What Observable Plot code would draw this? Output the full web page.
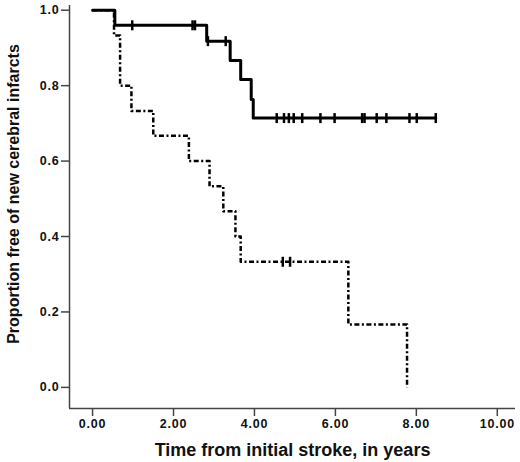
<!DOCTYPE html>
<html>
<head>
<meta charset="utf-8">
<script src="https://cdn.jsdelivr.net/npm/d3@7"></script>
<script src="https://cdn.jsdelivr.net/npm/@observablehq/plot@0.6"></script>
<style>
  body { margin: 0; background: #fff; }
  #chart svg { font-family: "Liberation Sans", Arial, sans-serif; }
  #chart svg g[aria-label$="tick label"] text { letter-spacing: 0.8px; }
</style>
</head>
<body>
<div id="chart"></div>
<script>
// Kaplan-Meier steps, solid group
const solidTimes = [0, 0.55, 2.82, 3.40, 3.66, 3.92, 3.97, 8.48]
const solidSurv  = [1, 0.96, 0.918, 0.867, 0.816, 0.763, 0.714, 0.714]
const solidCensorTimes = [0.98, 2.47, 2.53, 2.85, 3.29, 4.55, 4.73, 4.85, 4.97, 5.18, 5.63, 5.98, 6.66, 6.72, 7.02, 7.26, 7.83, 8.01, 8.48]
const solidCensorSurv  = [0.96, 0.96, 0.96, 0.918, 0.918, 0.714, 0.714, 0.714, 0.714, 0.714, 0.714, 0.714, 0.714, 0.714, 0.714, 0.714, 0.714, 0.714, 0.714]

// dashed group
const dashedTimes = [0, 0.53, 0.68, 0.96, 1.50, 2.38, 2.89, 3.23, 3.53, 3.66, 6.32, 7.77]
const dashedSurv  = [1, 0.933, 0.8, 0.733, 0.667, 0.6, 0.533, 0.467, 0.4, 0.333, 0.167, 0]
const dashedCensorTimes = [4.70, 4.88]
const dashedCensorSurv  = [0.333, 0.333]

const xTicks = [0, 2, 4, 6, 8, 10]
const yTicks = [0, 0.2, 0.4, 0.6, 0.8, 1.0]
const xTitle = "Time from initial stroke, in years"
const yTitle = "Proportion free of new cerebral infarcts"

const xDomain = [-0.57, 10.45]
const yDomain = [-0.056, 1.0125]

const solid = solidTimes.map((t, i) => ({t, s: solidSurv[i]}))
const dashed = dashedTimes.map((t, i) => ({t, s: dashedSurv[i]}))
const censors = solidCensorTimes.map((t, i) => ({t, s: solidCensorSurv[i]}))
  .concat(dashedCensorTimes.map((t, i) => ({t, s: dashedCensorSurv[i]})))

// vertical bar used as censor mark
const vbar = {
  draw(context, size) {
    const r = Math.sqrt(size / Math.PI)
    context.moveTo(0, -r)
    context.lineTo(0, r)
  }
}

const chart = Plot.plot({
  width: 520,
  height: 462,
  marginLeft: 69,
  marginRight: 5,
  marginTop: 5,
  marginBottom: 54,
  x: {domain: xDomain},
  y: {domain: yDomain},
  marks: [
    Plot.ruleX([xDomain[0]], {stroke: "#444", strokeWidth: 1.5}),
    Plot.ruleY([yDomain[0]], {stroke: "#444", strokeWidth: 1.5}),
    Plot.axisX(xTicks, {
      tickSize: 8, tickPadding: 3, stroke: "#444", strokeWidth: 1.5,
      tickFormat: d => d.toFixed(2), fontSize: 12.5, fontWeight: "bold",
      fill: "#111", label: null
    }),
    Plot.axisY(yTicks, {
      tickSize: 8, tickPadding: 2, stroke: "#444", strokeWidth: 1.5,
      tickFormat: d => d.toFixed(1), fontSize: 12.5, fontWeight: "bold",
      fill: "#111", label: null
    }),
    Plot.line(dashed, {
      x: "t", y: "s", curve: "step-after", stroke: "#000",
      strokeWidth: 2.5, strokeDasharray: "5,2.5,2,2.5", strokeLinecap: "butt"
    }),
    Plot.line(solid, {
      x: "t", y: "s", curve: "step-after", stroke: "#000", strokeWidth: 3
    }),
    Plot.dot(censors, {
      x: "t", y: "s", symbol: vbar, r: 5, stroke: "#000", strokeWidth: 2.5, fill: "none"
    }),
    Plot.text([xTitle], {
      text: d => d, frameAnchor: "bottom", dy: 47,
      fontSize: 18, fontWeight: "bold", fill: "#111"
    }),
    Plot.text([yTitle], {
      text: d => d, frameAnchor: "left", textAnchor: "middle", rotate: -90, dx: -56, dy: -13,
      fontSize: 16, fontWeight: "bold", fill: "#111"
    })
  ]
})

d3.select("#chart").append(() => chart)
</script>
</body>
</html>
